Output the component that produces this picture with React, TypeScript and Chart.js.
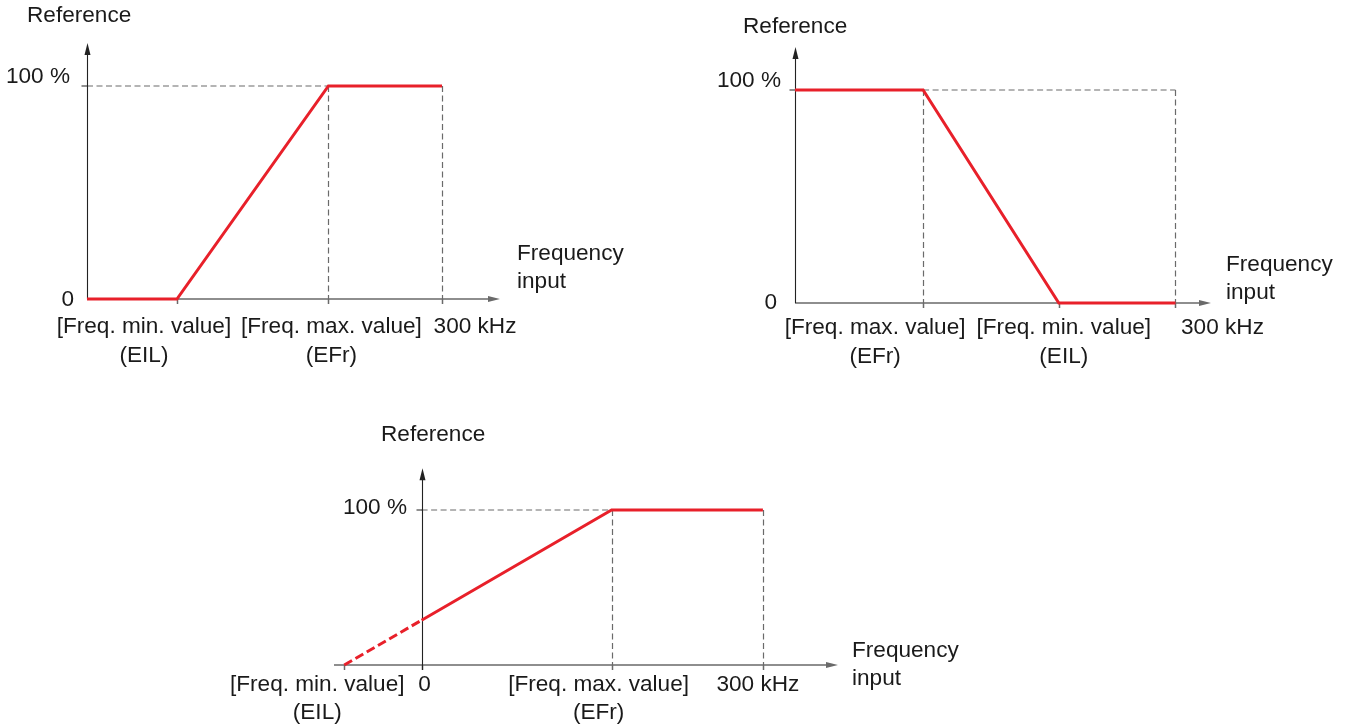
import React, { useEffect, useRef } from "react";
import { Chart, registerables } from "chart.js";

Chart.register(...registerables);

const W = 1347;
const H = 726;
const FONT = '22.6px "Liberation Sans", Arial, Helvetica, sans-serif';
const RED = "#e8202a";
const TEXT = "#1a1a1a";
const AXIS_X = "#6a6a6a";
const AXIS_Y = "#222222";
const GUIDE = "#6a6a6a";

// ---------- Data ----------
const refLabels = ["0", "100 %"];
const refValues = [0, 100];
const yTitle = "Reference";
const xTitle = ["Frequency", "input"];

// Chart 1: increasing, clamped at 0 below EIL
const c1Freq = [0, 76, 204, 300];
const c1Ref = [0, 0, 100, 100];
const c1Ticks = [76, 204, 300];
const c1TickLabels = [["[Freq. min. value]", "(EIL)"], ["[Freq. max. value]", "(EFr)"], ["300 kHz"]];

// Chart 2: decreasing
const c2Freq = [0, 101, 208, 300];
const c2Ref = [100, 100, 0, 0];
const c2Ticks = [101, 208, 300];
const c2TickLabels = [["[Freq. max. value]", "(EFr)"], ["[Freq. min. value]", "(EIL)"], ["300 kHz"]];

// Chart 3: negative EIL, extrapolated part dashed
const c3DashFreq = [-68, 0];
const c3DashRef = [0, 28.9];
const c3Freq = [0, 167, 300];
const c3Ref = [28.9, 100, 100];
const c3Ticks = [-68, 0, 167, 300];
const c3TickLabels = [["[Freq. min. value]", "(EIL)"], ["0"], ["[Freq. max. value]", "(EFr)"], ["300 kHz"]];

// ---------- Layout (pixels) ----------
type Panel = {
  area: { left: number; right: number; top: number; bottom: number };
  xMin: number;
  xMax: number;
  yArrow: number;
  lines: { x: number[]; y: number[]; dash?: number[] }[];
  ticks: number[];
  tickLabels: string[][];
  labelShift: number[];
  rowY: [number, number];
  guideH: [number, number];
  guideV: number[];
  showZero: boolean;
  y100: { right: number; y: number };
  y0: { right: number; y: number };
  title: { x: number; y: number };
  freq: { x: number; y: number };
};

const panels: Panel[] = [
  {
    area: { left: 87, right: 500, top: 86, bottom: 299 },
    xMin: 0,
    xMax: 349,
    yArrow: 120.2,
    lines: [{ x: c1Freq, y: c1Ref }],
    ticks: c1Ticks,
    tickLabels: c1TickLabels,
    labelShift: [-33, 3, 33],
    rowY: [327, 356],
    guideH: [0, 204],
    guideV: [204, 300],
    showZero: true,
    y100: { right: 70, y: 77 },
    y0: { right: 74, y: 300 },
    title: { x: 27, y: 16 },
    freq: { x: 517, y: 254 },
  },
  {
    area: { left: 795, right: 1211, top: 90, bottom: 303 },
    xMin: 0,
    xMax: 328,
    yArrow: 120.2,
    lines: [{ x: c2Freq, y: c2Ref }],
    ticks: c2Ticks,
    tickLabels: c2TickLabels,
    labelShift: [-48, 5, 47],
    rowY: [328, 357],
    guideH: [101, 300],
    guideV: [101, 300],
    showZero: true,
    y100: { right: 781, y: 81 },
    y0: { right: 777, y: 303 },
    title: { x: 743, y: 27 },
    freq: { x: 1226, y: 265 },
  },
  {
    area: { left: 334, right: 838, top: 510, bottom: 665 },
    xMin: -77,
    xMax: 366,
    yArrow: 127,
    lines: [
      { x: c3DashFreq, y: c3DashRef, dash: [9, 4] },
      { x: c3Freq, y: c3Ref },
    ],
    ticks: c3Ticks,
    tickLabels: c3TickLabels,
    labelShift: [-27, 3, -13, -5],
    rowY: [685, 713],
    guideH: [0, 167],
    guideV: [167, 300],
    showZero: false,
    y100: { right: 407, y: 508 },
    y0: { right: 407, y: 665 },
    title: { x: 381, y: 435 },
    freq: { x: 852, y: 651 },
  },
];

function makePlugin(p: Panel) {
  return {
    id: "diagram",
    beforeDatasetsDraw(chart: any) {
      const ctx: CanvasRenderingContext2D = chart.ctx;
      const xs = chart.scales.x;
      const ys = chart.scales.y;
      const y0 = ys.getPixelForValue(0);
      const y100 = ys.getPixelForValue(100);
      const yTop = ys.getPixelForValue(p.yArrow);
      const xOrigin = xs.getPixelForValue(0);
      const xStart = xs.getPixelForValue(p.xMin);
      const xEnd = xs.getPixelForValue(p.xMax);
      ctx.save();
      // guides
      ctx.strokeStyle = GUIDE;
      ctx.lineWidth = 1.2;
      ctx.setLineDash([6, 3.5]);
      ctx.beginPath();
      ctx.moveTo(xs.getPixelForValue(p.guideH[0]), y100);
      ctx.lineTo(xs.getPixelForValue(p.guideH[1]), y100);
      for (const v of p.guideV) {
        const px = Math.round(xs.getPixelForValue(v)) + 0.5;
        ctx.moveTo(px, y100);
        ctx.lineTo(px, y0);
      }
      ctx.stroke();
      ctx.setLineDash([]);
      // x axis
      ctx.strokeStyle = AXIS_X;
      ctx.fillStyle = AXIS_X;
      ctx.lineWidth = 1.5;
      ctx.beginPath();
      ctx.moveTo(xStart, y0);
      ctx.lineTo(xEnd - 8, y0);
      for (const t of p.ticks) {
        const px = Math.round(xs.getPixelForValue(t)) + 0.5;
        ctx.moveTo(px, y0);
        ctx.lineTo(px, y0 + 5);
      }
      ctx.stroke();
      ctx.beginPath();
      ctx.moveTo(xEnd, y0);
      ctx.lineTo(xEnd - 12, y0 - 3);
      ctx.lineTo(xEnd - 12, y0 + 3);
      ctx.closePath();
      ctx.fill();
      // y axis
      ctx.strokeStyle = AXIS_Y;
      ctx.fillStyle = AXIS_Y;
      ctx.lineWidth = 1.1;
      const ax = Math.round(xOrigin) + 0.5;
      ctx.beginPath();
      ctx.moveTo(ax, y0 + (p.showZero ? 0 : 5));
      ctx.lineTo(ax, yTop + 8);
      ctx.moveTo(ax - 6, y100);
      ctx.lineTo(ax, y100);
      ctx.stroke();
      ctx.beginPath();
      ctx.moveTo(ax, yTop);
      ctx.lineTo(ax - 3, yTop + 12);
      ctx.lineTo(ax + 3, yTop + 12);
      ctx.closePath();
      ctx.fill();
      ctx.restore();
    },
    afterDraw(chart: any) {
      const ctx: CanvasRenderingContext2D = chart.ctx;
      const xs = chart.scales.x;
      ctx.save();
      ctx.font = FONT;
      ctx.fillStyle = TEXT;
      ctx.textBaseline = "middle";
      ctx.textAlign = "left";
      ctx.fillText(yTitle, p.title.x, p.title.y);
      ctx.fillText(xTitle[0], p.freq.x, p.freq.y);
      ctx.fillText(xTitle[1], p.freq.x, p.freq.y + 28);
      ctx.textAlign = "right";
      ctx.fillText(refLabels[refValues.indexOf(100)], p.y100.right, p.y100.y);
      if (p.showZero) ctx.fillText(refLabels[refValues.indexOf(0)], p.y0.right, p.y0.y);
      ctx.textAlign = "center";
      p.ticks.forEach((t, i) => {
        const cx = xs.getPixelForValue(t) + p.labelShift[i];
        p.tickLabels[i].forEach((line, j) => {
          ctx.fillText(line, cx, p.rowY[j]);
        });
      });
      ctx.restore();
    },
  };
}

function PanelChart({ p }: { p: Panel }) {
  const ref = useRef<HTMLCanvasElement | null>(null);
  useEffect(() => {
    if (!ref.current) return;
    const chart = new Chart(ref.current, {
      type: "line",
      data: {
        datasets: p.lines.map((l) => ({
          data: l.x.map((x, i) => ({ x, y: l.y[i] })),
          borderColor: RED,
          borderWidth: 3,
          borderDash: l.dash || [],
          pointRadius: 0,
          tension: 0,
          fill: false,
          clip: false as any,
        })),
      },
      options: {
        animation: false,
        responsive: false,
        events: [],
        layout: {
          padding: {
            left: p.area.left,
            right: W - p.area.right,
            top: p.area.top,
            bottom: H - p.area.bottom,
          },
        },
        plugins: { legend: { display: false }, tooltip: { enabled: false }, title: { display: false } },
        scales: {
          x: { type: "linear", min: p.xMin, max: p.xMax, display: false },
          y: { type: "linear", min: 0, max: 100, display: false },
        },
      },
      plugins: [makePlugin(p)],
    } as any);
    return () => chart.destroy();
  }, [p]);
  return (
    <canvas
      ref={ref}
      width={W}
      height={H}
      style={{ position: "absolute", left: 0, top: 0, width: W, height: H }}
    />
  );
}

export default function App() {
  return (
    <div style={{ position: "absolute", left: 0, top: 0, width: W, height: H, background: "#ffffff" }}>
      {panels.map((p, i) => (
        <PanelChart key={i} p={p} />
      ))}
    </div>
  );
}
